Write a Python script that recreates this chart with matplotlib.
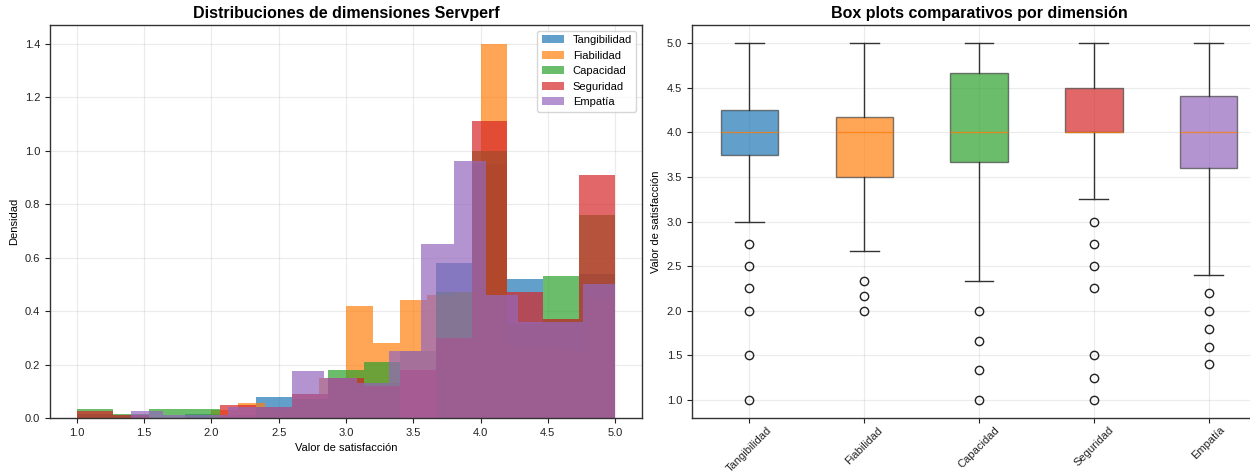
import numpy as np
import matplotlib
matplotlib.use('Agg')
from matplotlib import pyplot

pyplot.rcParams['font.family'] = ['Liberation Sans', 'DejaVu Sans']

dims = ['Tangibilidad', 'Fiabilidad', 'Capacidad', 'Seguridad', 'Empatía']
colors = ['tab:blue', 'tab:orange', 'tab:green', 'tab:red', 'tab:purple']

# rango (min, max) de cada dimension -> 15 bins por serie
ranges = [(1.0, 5.0), (2.0, 5.0), (1.0, 5.0), (1.0, 5.0), (1.4, 5.0)]

dens_tang = [0.015, 0.01, 0.0, 0.015, 0.01, 0.078, 0.07, 0.15, 0.13, 0.25,
             0.58, 0.95, 0.52, 0.37, 0.54]
dens_fiab = [0.03, 0.055, 0.03, 0.09, 0.15, 0.42, 0.28, 0.44, 0.46, 0.47,
             1.40, 0.27, 0.26, 0.25, 0.45]
dens_capa = [0.033, 0.015, 0.033, 0.033, 0.0, 0.04, 0.07, 0.18, 0.21, 0.0,
             0.47, 1.00, 0.35, 0.53, 0.76]
dens_segu = [0.025, 0.01, 0.0, 0.0, 0.05, 0.04, 0.09, 0.15, 0.12, 0.18,
             0.30, 1.11, 0.47, 0.37, 0.91]
dens_empa = [0.025, 0.01, 0.01, 0.04, 0.04, 0.175, 0.15, 0.13, 0.25, 0.65,
             0.96, 0.46, 0.36, 0.36, 0.50]
densities = [dens_tang, dens_fiab, dens_capa, dens_segu, dens_empa]

# estadisticos de los box plots
q1 = [3.75, 3.5, 3.667, 4.0, 3.6]
med = [4.0, 4.0, 4.0, 4.0, 4.0]
q3 = [4.25, 4.167, 4.667, 4.5, 4.4]
whis_lo = [3.0, 2.667, 2.333, 3.25, 2.4]
whis_hi = [5.0, 5.0, 5.0, 5.0, 5.0]
fliers = [
    [2.75, 2.5, 2.25, 2.0, 1.5, 1.0],
    [2.333, 2.167, 2.0],
    [2.0, 1.667, 1.333, 1.0],
    [3.0, 2.75, 2.5, 2.25, 1.5, 1.25, 1.0],
    [2.2, 2.0, 1.8, 1.6, 1.4],
]


def style_axes(ax):
    ax.grid(True, alpha=0.25)
    ax.set_axisbelow(True)
    for s in ax.spines.values():
        s.set_color('#333333')
        s.set_linewidth(1.0)
    ax.tick_params(labelsize=8, colors='#222222')


fig = pyplot.figure(figsize=(12.5, 4.72), dpi=100)
ax1 = fig.add_axes([50 / 1250, 54 / 472, 592 / 1250, 393 / 472])
ax2 = fig.add_axes([692 / 1250, 54 / 472, 574 / 1250, 393 / 472])

# histogramas
for name, col, rng, dens in zip(dims, colors, ranges, densities):
    edges = np.linspace(rng[0], rng[1], len(dens) + 1)
    ax1.hist(edges[:-1], bins=edges, weights=dens, alpha=0.7,
             color=col, label=name)
ax1.set_xlim(0.8, 5.2)
ax1.set_title('Distribuciones de dimensiones Servperf',
              fontsize=11.5, fontweight='bold', pad=5)
ax1.set_xlabel('Valor de satisfacción', fontsize=8)
ax1.set_ylabel('Densidad', fontsize=8)
ax1.legend(loc='upper right', fontsize=8)
style_axes(ax1)

# box plots
stats = []
for i, name in enumerate(dims):
    stats.append({'label': name, 'q1': q1[i], 'med': med[i], 'q3': q3[i],
                  'whislo': whis_lo[i], 'whishi': whis_hi[i],
                  'fliers': fliers[i]})
bp = ax2.bxp(stats, patch_artist=True, widths=0.5,
             boxprops=dict(edgecolor='#444444', linewidth=1.0),
             whiskerprops=dict(color='#333333', linewidth=1.0),
             capprops=dict(color='#333333', linewidth=1.0),
             medianprops=dict(color='tab:orange', linewidth=0.9, alpha=0.8),
             flierprops=dict(marker='o', markerfacecolor='none',
                             markeredgecolor='#222222', markersize=6))
for box, col in zip(bp['boxes'], colors):
    box.set_facecolor(col)
    box.set_alpha(0.7)
ax2.set_ylim(0.8, 5.2)
ax2.set_title('Box plots comparativos por dimensión',
              fontsize=11.5, fontweight='bold', pad=5)
ax2.set_ylabel('Valor de satisfacción', fontsize=8)
style_axes(ax2)
ax2.tick_params(axis='x', rotation=45, pad=1.5)

fig.savefig('out.png', dpi=100)
